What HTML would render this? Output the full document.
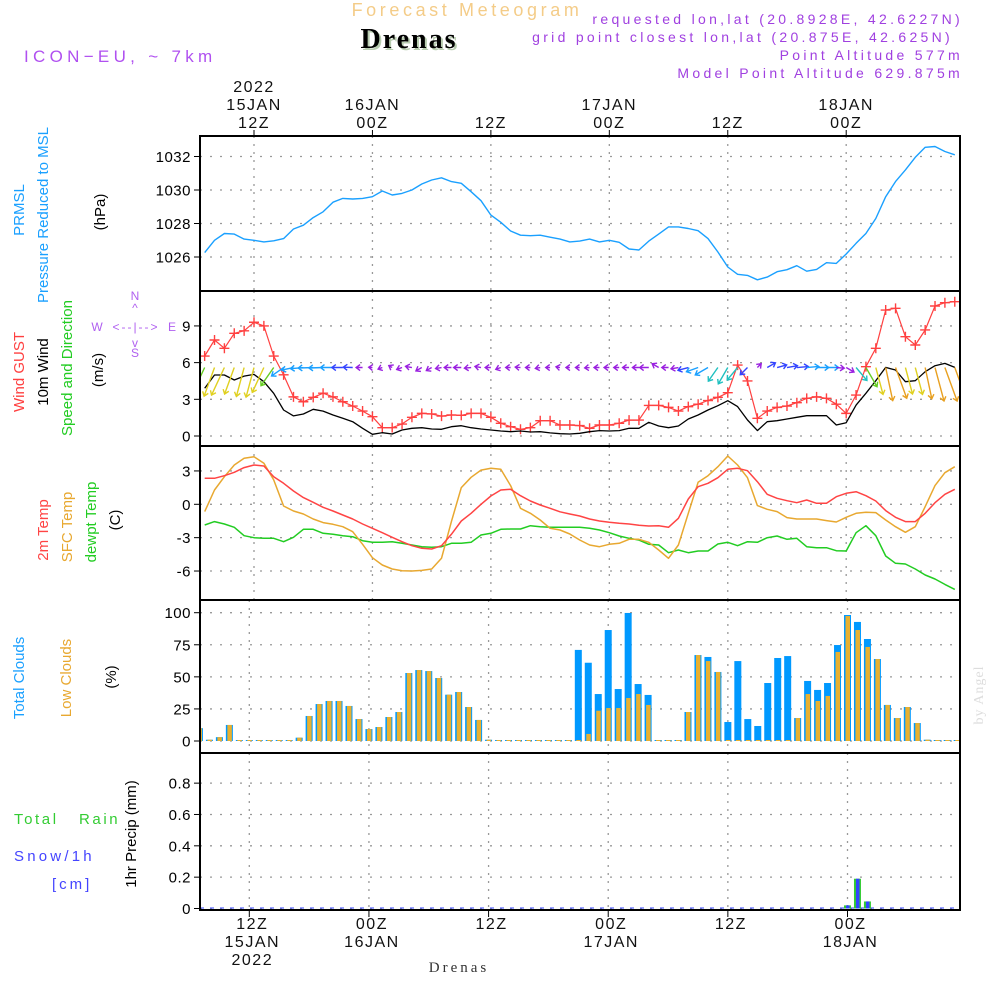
<!DOCTYPE html>
<html><head><meta charset="utf-8"><style>
html,body{margin:0;padding:0;background:#fff;}
svg{display:block;font-family:"Liberation Sans",sans-serif;}
</style></head><body>
<svg id="chart" width="1000" height="1000" viewBox="0 0 1000 1000">
<rect x="0" y="0" width="1000" height="1000" fill="#fff"/>
<g>
<text x="467" y="16" text-anchor="middle" font-size="18" letter-spacing="3.6" fill="#f4cc88">Forecast Meteogram</text>
<text x="411" y="50" text-anchor="middle" font-size="28" font-weight="bold" font-family="Liberation Serif,serif" letter-spacing="2" fill="#b8ccb0">Drenas</text>
<text x="409" y="48" text-anchor="middle" font-size="28" font-weight="bold" font-family="Liberation Serif,serif" letter-spacing="2" fill="#000">Drenas</text>
<text x="24" y="62" font-size="17" letter-spacing="4.3" fill="#b050f0">ICON−EU, ~ 7km</text>
<text x="963" y="24" text-anchor="end" font-size="14" letter-spacing="3.3" fill="#a040e0">requested lon,lat (20.8928E, 42.6227N)</text>
<text x="953" y="42" text-anchor="end" font-size="14" letter-spacing="3.3" fill="#a040e0">grid point closest lon,lat (20.875E, 42.625N)</text>
<text x="963" y="60" text-anchor="end" font-size="14" letter-spacing="3.3" fill="#a040e0">Point Altitude 577m</text>
<text x="963" y="78" text-anchor="end" font-size="14" letter-spacing="3.3" fill="#a040e0">Model Point Altitude 629.875m</text>
<text x="459" y="972" text-anchor="middle" font-size="15" font-family="Liberation Serif,serif" letter-spacing="3" fill="#333">Drenas</text>
<text transform="rotate(-90,983,695)" x="983" y="695" text-anchor="middle" font-size="14" font-family="Liberation Serif,serif" fill="#ddd" letter-spacing="1">by Angel</text>
</g>
<g>
<text transform="rotate(-90,24,210)" x="24" y="210" text-anchor="middle" font-size="15" fill="#1aa0ff">PRMSL</text>
<text transform="rotate(-90,48,215)" x="48" y="215" text-anchor="middle" font-size="15" fill="#1aa0ff">Pressure Reduced to MSL</text>
<text transform="rotate(-90,105,212)" x="105" y="212" text-anchor="middle" font-size="15" fill="#000">(hPa)</text>
<text transform="rotate(-90,24,372)" x="24" y="372" text-anchor="middle" font-size="15"><tspan fill="#ff4040">Wind GUST</tspan></text>
<text transform="rotate(-90,48,372)" x="48" y="372" text-anchor="middle" font-size="15" fill="#000">10m Wind</text>
<text transform="rotate(-90,72,368)" x="72" y="368" text-anchor="middle" font-size="15" fill="#22cc22">Speed and Direction</text>
<text transform="rotate(-90,103,370)" x="103" y="370" text-anchor="middle" font-size="15" fill="#000">(m/s)</text>
<g fill="#b060f0" font-size="12">
<text x="135" y="300" text-anchor="middle">N</text><text x="135" y="312" text-anchor="middle">^</text>
<text x="97" y="331" text-anchor="middle">W</text><text x="136" y="331" text-anchor="middle" letter-spacing="2">&lt;--|--&gt;</text>
<text x="172" y="331" text-anchor="middle">E</text>
<text x="135" y="347" text-anchor="middle">v</text><text x="135" y="357" text-anchor="middle">S</text>
</g>
<text transform="rotate(-90,48,530)" x="48" y="530" text-anchor="middle" font-size="15" fill="#ff4444">2m Temp</text>
<text transform="rotate(-90,72,527)" x="72" y="527" text-anchor="middle" font-size="15" fill="#e8a830">SFC Temp</text>
<text transform="rotate(-90,96,522)" x="96" y="522" text-anchor="middle" font-size="15" fill="#22cc22">dewpt Temp</text>
<text transform="rotate(-90,120,520)" x="120" y="520" text-anchor="middle" font-size="15" fill="#000">(C)</text>
<text transform="rotate(-90,24,678)" x="24" y="678" text-anchor="middle" font-size="15" fill="#1aa0ff">Total Clouds</text>
<text transform="rotate(-90,71,678)" x="71" y="678" text-anchor="middle" font-size="15" fill="#e8a830">Low Clouds</text>
<text transform="rotate(-90,116,677)" x="116" y="677" text-anchor="middle" font-size="15" fill="#000">(%)</text>
<text x="14" y="824" font-size="15" letter-spacing="2.6" fill="#33cc33" xml:space="preserve">Total   Rain</text>
<text x="14" y="861" font-size="15" letter-spacing="3.2" fill="#4444ff">Snow/1h</text>
<text x="52" y="889" font-size="15" letter-spacing="3" fill="#4444ff">[cm]</text>
<text transform="rotate(-90,136,834)" x="136" y="834" text-anchor="middle" font-size="15" fill="#000">1hr Precip (mm)</text>
</g>
<g id="plots"></g>
</svg>
<script>
const hourStart = 7;
const pressure = [1026.26,1027.0,1027.4,1027.37,1027.07,1027.0,1026.9,1026.97,1027.1,1027.67,1027.9,1028.35,1028.7,1029.27,1029.5,1029.46,1029.5,1029.6,1029.94,1029.7,1029.8,1030.0,1030.36,1030.6,1030.73,1030.5,1030.4,1029.9,1029.36,1028.5,1028.07,1027.55,1027.3,1027.27,1027.3,1027.18,1027.07,1026.9,1026.95,1027.07,1026.9,1027.0,1026.88,1026.48,1026.42,1026.95,1027.37,1027.8,1027.8,1027.7,1027.57,1027.1,1026.3,1025.4,1024.97,1024.9,1024.64,1024.8,1025.12,1025.24,1025.48,1025.15,1025.26,1025.66,1025.62,1026.18,1026.82,1027.4,1028.3,1029.6,1030.5,1031.2,1031.95,1032.55,1032.6,1032.3,1032.1];
const gust = [6.54,7.85,7.17,8.4,8.6,9.3,9.0,6.54,5.0,3.2,2.8,3.16,3.5,3.2,2.8,2.45,2.04,1.58,0.68,0.68,0.98,1.53,1.85,1.8,1.63,1.72,1.69,1.85,1.85,1.53,1.04,0.76,0.55,0.68,1.25,1.25,0.9,0.9,0.85,0.63,0.9,0.9,1.04,1.3,1.3,2.5,2.5,2.34,2.04,2.4,2.6,2.9,3.16,3.54,5.8,4.5,1.45,2.04,2.34,2.45,2.72,3.08,3.2,3.08,2.6,1.85,3.35,5.67,7.17,10.3,10.44,8.12,7.44,8.67,10.63,10.9,10.98];
const windSpeed = [3.9,4.99,4.99,4.58,4.9,5.04,4.44,3.49,2.13,1.64,1.8,2.18,2.04,1.72,1.45,1.17,0.63,0.14,0.27,0.16,0.49,0.63,0.68,0.57,0.55,0.76,0.84,0.68,0.57,0.49,0.41,0.35,0.41,0.33,0.35,0.25,0.19,0.16,0.22,0.35,0.44,0.41,0.44,0.63,0.63,1.12,0.82,0.68,0.82,1.39,1.72,2.13,2.48,2.89,2.4,1.31,0.44,1.17,1.25,1.39,1.53,1.66,1.66,1.66,0.9,1.09,2.53,3.49,4.52,5.61,5.4,4.44,4.52,5.26,5.75,5.94,5.61];
const windToDir = [205,200,205,200,195,195,205,215,235,258,265,268,268,270,270,272,270,275,250,300,250,280,240,240,260,270,270,265,280,270,250,270,275,270,260,270,280,270,270,265,270,270,270,270,270,270,300,270,260,255,250,240,215,210,220,225,45,60,75,80,85,85,90,90,95,120,140,150,165,168,160,165,165,168,165,160,160];
const temp2m = [2.34,2.34,2.57,2.88,3.3,3.53,3.44,2.48,1.89,1.2,0.6,0.18,-0.27,-0.6,-0.96,-1.32,-1.77,-2.16,-2.55,-2.97,-3.36,-3.72,-3.96,-4.02,-3.72,-2.7,-1.5,-0.81,0,0.75,1.29,1.35,0.77,0.3,-0.06,-0.36,-0.67,-0.87,-1.05,-1.32,-1.5,-1.62,-1.71,-1.77,-1.89,-1.95,-1.92,-2.07,-1.26,0.48,1.58,1.89,2.39,3.15,3.24,3.02,2.03,0.9,0.54,0.32,0.14,0.39,0.09,0.09,0.68,0.99,1.13,0.77,0.3,-0.57,-1.17,-1.56,-1.56,-0.81,0.14,0.9,1.35];
const tempSfc = [-0.66,1.29,2.48,3.53,4.14,4.28,3.69,2.19,-0.15,-0.6,-0.87,-1.32,-1.65,-1.8,-2.01,-2.46,-3.6,-4.8,-5.46,-5.82,-5.97,-6.0,-5.94,-5.82,-4.86,-1.56,1.5,2.43,3.08,3.24,3.15,1.68,-0.36,-0.81,-1.41,-2.16,-2.31,-2.67,-3.21,-3.66,-3.81,-3.6,-3.51,-3.15,-3.15,-3.42,-4.11,-4.86,-3.66,-0.81,1.98,2.57,3.38,4.34,3.53,2.39,-0.12,-0.45,-0.66,-1.2,-1.32,-1.32,-1.32,-1.47,-1.59,-1.17,-0.81,-0.72,-0.75,-1.41,-2.01,-2.52,-2.01,-0.21,1.68,2.84,3.38];
const dewpt = [-1.86,-1.56,-1.77,-2.07,-2.82,-3.0,-3.06,-3.06,-3.36,-2.97,-2.25,-2.25,-2.61,-2.7,-2.82,-2.91,-3.27,-3.42,-3.42,-3.36,-3.51,-3.66,-3.81,-3.87,-3.81,-3.51,-3.51,-3.42,-2.76,-2.61,-2.25,-2.22,-2.22,-1.92,-2.01,-2.07,-2.07,-2.07,-2.07,-2.16,-2.31,-2.55,-2.85,-3.06,-3.21,-3.6,-3.66,-4.35,-4.11,-4.35,-4.2,-4.2,-3.57,-3.42,-3.72,-3.36,-3.42,-3.0,-2.85,-3.15,-3.06,-3.81,-3.9,-3.9,-4.17,-4.2,-2.55,-1.92,-2.82,-4.65,-5.31,-5.37,-5.82,-6.36,-6.72,-7.2,-7.65];
const totalClouds = [10,1,3,12.5,0,0,0,0,0,0,2.6,19.5,28.8,31.2,31.2,27.3,17.1,9.3,10.9,18.7,22.6,53,55.3,54.5,49.1,36.1,38.2,26.5,16.4,1,0,0,0,0,0,0,0,0,71,61,36.6,86.5,40.5,99.8,44.4,35.9,0,0,0,22.6,67,65.5,53.8,14.8,62.3,17.1,11.7,45.2,64.7,66.2,17.9,46.8,39.8,45.2,74.8,98.2,92.8,79.5,63.9,28.1,17.9,26.5,14,1,0,0,0];
const lowClouds = [10,1,3,12.5,0,0,0,0,0,0,2.6,19.5,28.8,31.2,31.2,27.3,17.1,9.3,10.9,18.7,22.6,53,55.3,54.5,49.1,36.1,38.2,26.5,16.4,1,0,0,0,0,0,0,0,0,0,5.5,23.6,25.7,25.7,33.5,36.6,28.1,0,0,0,22.6,67,62.3,53.8,0,0,0,0,0,0,0,17.9,36.6,31.2,35.1,69.4,97.4,86.5,73.3,63.9,28.1,17.9,26.5,14,1,0,0,0];
const rain = [0,0,0,0,0,0,0,0,0,0,0,0,0,0,0,0,0,0,0,0,0,0,0,0,0,0,0,0,0,0,0,0,0,0,0,0,0,0,0,0,0,0,0,0,0,0,0,0,0,0,0,0,0,0,0,0,0,0,0,0,0,0,0,0,0,0.02,0.19,0.045,0,0,0,0,0,0,0,0,0];
const snow = [0,0,0,0,0,0,0,0,0,0,0,0,0,0,0,0,0,0,0,0,0,0,0,0,0,0,0,0,0,0,0,0,0,0,0,0,0,0,0,0,0,0,0,0,0,0,0,0,0,0,0,0,0,0,0,0,0,0,0,0,0,0,0,0,0,0.02,0.19,0.045,0,0,0,0,0,0,0,0,0];
const pressureTicks = [1026,1028,1030,1032];
const windTicks = [0,3,6,9];
const tempTicks = [-6,-3,0,3];
const cloudTicks = [0,25,50,75,100];
const precipTicks = [0,0.2,0.4,0.6,0.8];
const gridHours = [12,24,36,48,60,72];
const topLabels = [["2022","15JAN","12Z"],["","16JAN","00Z"],["","","12Z"],["","17JAN","00Z"],["","","12Z"],["","18JAN","00Z"]];
const bottomLabels = [["12Z","15JAN","2022"],["00Z","16JAN",""],["12Z","",""],["00Z","17JAN",""],["12Z","",""],["00Z","18JAN",""]];

const NS = "http://www.w3.org/2000/svg";
const root = document.getElementById('plots');
const X0 = 200, X1 = 960;
const xT = h => 254 + (h - 12) * 9.87;
const xB = h => 249.3 + (h - 12) * 9.97;
const yP = p => 257 - (p - 1026) * 16.75;
const yW = v => 436 - v * 12.23;
const yT = t => 504.3 - t * 11.12;
const yC = c => 741 - c * 1.283;
const yR = r => 908.5 - r * 156.7;
const hourOf = i => hourStart + i;

function mk(tag, attrs, parent) {
  const e = document.createElementNS(NS, tag);
  for (const k in attrs) e.setAttribute(k, attrs[k]);
  (parent || root).appendChild(e);
  return e;
}
const panels = [
  {name: 'pressure', y0: 136, y1: 291, xf: xT, ticks: pressureTicks, yf: yP, fmt: v => String(v)},
  {name: 'wind', y0: 291, y1: 446, xf: xT, ticks: windTicks, yf: yW, fmt: v => String(v)},
  {name: 'temp', y0: 446, y1: 600, xf: xT, ticks: tempTicks, yf: yT, fmt: v => String(v)},
  {name: 'clouds', y0: 600, y1: 753, xf: xB, ticks: cloudTicks, yf: yC, fmt: v => String(v)},
  {name: 'precip', y0: 753, y1: 910, xf: xB, ticks: precipTicks, yf: yR, fmt: v => v === 0 ? '0' : v.toFixed(1)}
];
const defs = mk('defs', {});
panels.forEach((p, pi) => {
  const cp = mk('clipPath', {id: 'clip' + pi}, defs);
  mk('rect', {x: X0, y: p.y0, width: X1 - X0, height: p.y1 - p.y0}, cp);
  const g = mk('g', {});
  
  
  p.g = mk('g', {'clip-path': 'url(#clip' + pi + ')'}, g);
  p.outer = g;
  gridHours.forEach(h => {
    const gl = mk('line', {x1: p.xf(h), x2: p.xf(h), y1: p.y0, y2: p.y1, stroke: '#999', 'stroke-width': 1.3, 'stroke-dasharray': '2 6'}, p.g);
    
    
  });
  p.ticks.forEach(v => {
    const y = p.yf(v);
    const gl = mk('line', {x1: X0, x2: X1, y1: y, y2: y, stroke: '#999', 'stroke-width': 1.3, 'stroke-dasharray': '2 8'}, p.g);
    
    
    const tk = mk('line', {x1: X0 - 6, x2: X0, y1: y, y2: y, stroke: '#000', 'stroke-width': 1}, g);
    
    
    const tl = mk('text', {x: X0 - 9, y: y + 5.5, 'text-anchor': 'end', 'font-size': 15, 'letter-spacing': 0.5, fill: '#000'}, g);
    
    
    tl.textContent = p.fmt(v);
  });
});
function line(p, arr, yf, color, name, w) {
  const pts = arr.map((v, i) => p.xf(hourOf(i)).toFixed(1) + ',' + yf(v).toFixed(1)).join(' ');
  const l = mk('polyline', {points: pts, fill: 'none', stroke: color, 'stroke-width': w || 1.4, 'stroke-linejoin': 'round'}, p.g);
  
  
}
line(panels[0], pressure, yP, '#1aa0ff', 'pressure-line');
const pw = panels[1];
line(pw, gust, yW, '#ff4040', 'gust-line', 1.2);
gust.forEach((v, i) => {
  const x = xT(hourOf(i)), y = yW(v);
  const m = mk('path', {d: `M${x-5},${y}H${x+5}M${x},${y-5}V${y+5}`, stroke: '#ff4040', 'stroke-width': 1.4}, pw.g);
  
  
});
line(pw, windSpeed, yW, '#000', 'wind-speed-line', 1.3);
function arrowColor(v) {
  if (v < 1.15) return '#9a20e0';
  if (v < 1.6) return '#3344ff';
  if (v < 2.3) return '#1aa0ff';
  if (v < 3.2) return '#20c0c0';
  if (v < 4.2) return '#66cc22';
  if (v < 5.2) return '#e0d020';
  return '#e8a020';
}
const arrowY = yW(5.6);
windSpeed.forEach((v, i) => {
  const x = xT(hourOf(i));
  const L = 3 + 5.5 * v;
  const a = windToDir[i] * Math.PI / 180;
  const ux = Math.sin(a), uy = -Math.cos(a);
  const ex = x + ux * L, ey = arrowY + uy * L;
  const hl = 5;
  const b1x = ex - hl * (ux * 0.8 - uy * 0.6), b1y = ey - hl * (uy * 0.8 + ux * 0.6);
  const b2x = ex - hl * (ux * 0.8 + uy * 0.6), b2y = ey - hl * (uy * 0.8 - ux * 0.6);
  const c = arrowColor(v);
  const ar = mk('path', {d: `M${x},${arrowY}L${ex},${ey}M${b1x},${b1y}L${ex},${ey}L${b2x},${b2y}`, stroke: c, 'stroke-width': 1.4, fill: 'none'}, pw.g);
  
  
});
const pt = panels[2];
line(pt, dewpt, yT, '#22cc22', 'dewpoint-line', 1.5);
line(pt, tempSfc, yT, '#e8a830', 'sfc-temp-line', 1.5);
line(pt, temp2m, yT, '#ff4444', 'temp-2m-line', 1.5);
const pc = panels[3];
totalClouds.forEach((v, i) => {
  const x = xB(hourOf(i));
  const yt = Math.min(yC(v), yC(0) - 1);
  const b = mk('rect', {x: x - 3.5, y: yt, width: 7, height: yC(0) - yt, fill: '#0099ff'}, pc.g);
  
  
  const lv = lowClouds[i];
  const yl = Math.min(yC(lv), yC(0) - 1);
  const b2 = mk('rect', {x: x - 2, y: yl, width: 4.5, height: yC(0) - yl, fill: '#e8b030'}, pc.g);
  
  
});
const pr = panels[4];
const bl = mk('line', {x1: X0, x2: X1, y1: yR(0) - 0.5, y2: yR(0) - 0.5, stroke: '#3344ff', 'stroke-width': 1, 'stroke-dasharray': '4 6'}, pr.g);


rain.forEach((v, i) => {
  if (v <= 0) return;
  const x = xB(hourOf(i));
  const b = mk('rect', {x: x - 3.5, y: yR(v), width: 7, height: yR(0) - yR(v), fill: '#33cc33'}, pr.g);
  
  
  const s = snow[i];
  const b2 = mk('rect', {x: x - 1.5, y: yR(s), width: 3.5, height: yR(0) - yR(s), fill: '#3344ff'}, pr.g);
  
  
});
panels.forEach(p => {
  const f = mk('rect', {x: X0, y: p.y0, width: X1 - X0, height: p.y1 - p.y0, fill: 'none', stroke: '#000', 'stroke-width': 2}, p.outer);
  
  
});
gridHours.forEach((h, k) => {
  const xt = xT(h);
  const t = mk('line', {x1: xt, x2: xt, y1: 130, y2: 136, stroke: '#000'});
  
  
  topLabels[k].forEach((s, j) => {
    if (!s) return;
    const tx = mk('text', {x: xt, y: 92 + j * 18, 'text-anchor': 'middle', 'font-size': 16, 'letter-spacing': 1.5, fill: '#111'});
    
    
    tx.textContent = s;
  });
  const xb = xB(h);
  const t2 = mk('line', {x1: xb, x2: xb, y1: 910, y2: 917, stroke: '#000'});
  
  
  bottomLabels[k].forEach((s, j) => {
    if (!s) return;
    const tx = mk('text', {x: xb + 3, y: 929 + j * 18, 'text-anchor': 'middle', 'font-size': 16, 'letter-spacing': 1.5, fill: '#111'});
    
    
    tx.textContent = s;
  });
});
</script>
</body></html>
